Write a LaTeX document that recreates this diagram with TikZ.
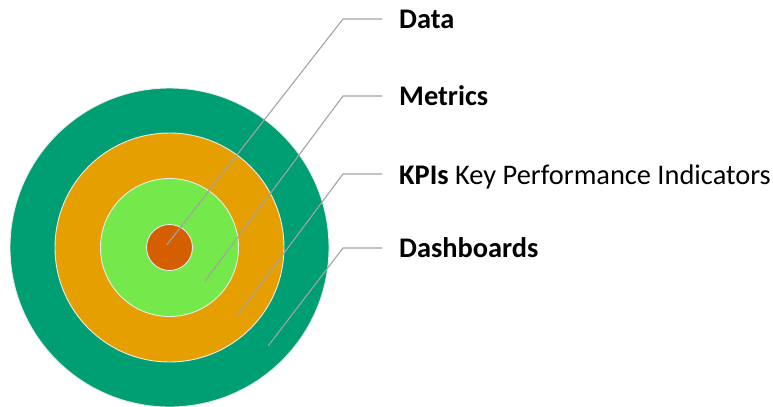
\documentclass[tikz,border=0pt]{standalone}
\usepackage{fontspec}
\setmainfont{Carlito}
\definecolor{ringdash}{HTML}{009E73}
\definecolor{ringkpi}{HTML}{E69F00}
\definecolor{ringmet}{HTML}{75E84B}
\definecolor{ringdata}{HTML}{D55E00}
\definecolor{leader}{HTML}{A3A3A3}
\begin{document}
\begin{tikzpicture}[x=1bp,y=-1bp,
  ring/.style={circle,draw=white!92!black,line width=0.9bp,inner sep=0pt,minimum size=#1},
  leaderline/.style={draw=leader,line width=1.1bp},
  label/.style={anchor=west,inner xsep=17bp,inner ysep=0pt,
    font=\fontsize{28.5}{32}\selectfont,text height=23bp,text depth=4.6bp}]
  \useasboundingbox (0,0) rectangle (773,406);
  % concentric rings, outermost first
  \node[ring=319bp,fill=ringdash] (dash) at (169.5,247.5) {};
  \node[ring=229bp,fill=ringkpi]  (kpi)  at (169.5,247.5) {};
  \node[ring=138bp,fill=ringmet]  (met)  at (169.5,247.5) {};
  \node[ring=46bp,fill=ringdata]  (data) at (169.5,247.5) {};
  % leader start points inside each ring and elbows
  \coordinate (sData) at (166.7,245);
  \coordinate (sMet)  at (205,281);
  \coordinate (sKpi)  at (237.3,315.7);
  \coordinate (sDash) at (268.3,345.7);
  \coordinate (eData) at (343,19);
  \coordinate (eMet)  at (343,96);
  \coordinate (eKpi)  at (343,174);
  \coordinate (eDash) at (343,248);
  % labels
  \node[label] (lData) at (382,19)  {\textbf{Data}};
  \node[label] (lMet)  at (382,96)  {\textbf{Metrics}};
  \node[label] (lKpi)  at (382,175) {\textbf{KPIs} Key Performance Indicators};
  \node[label] (lDash) at (382,248) {\textbf{Dashboards}};
  % leader lines
  \draw[leaderline] (sData) -- (eData) -- (eData -| lData.west);
  \draw[leaderline] (sMet)  -- (eMet)  -- (eMet -| lMet.west);
  \draw[leaderline] (sKpi)  -- (eKpi)  -- (eKpi -| lKpi.west);
  \draw[leaderline] (sDash) -- (eDash) -- (eDash -| lDash.west);
\end{tikzpicture}
\end{document}
